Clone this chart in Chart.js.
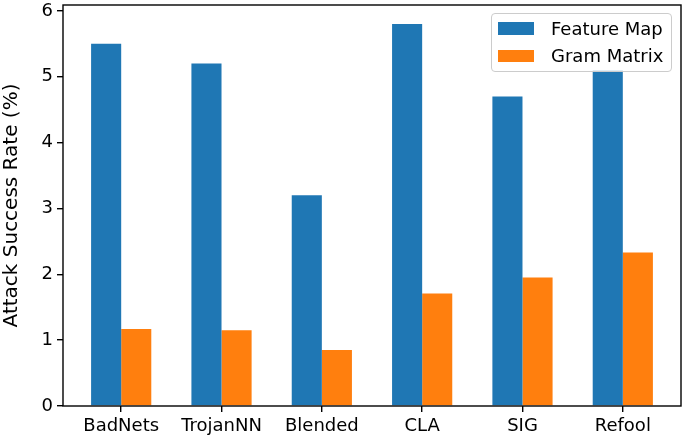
<!DOCTYPE html>
<html><head><meta charset="utf-8">
<script src="https://cdn.jsdelivr.net/npm/chart.js@4"></script>
<style>
html,body{margin:0;padding:0;background:#fff;}
#wrap{position:relative;width:685px;height:439px;}
#legend{position:absolute;left:491px;top:13px;width:181px;height:59px;box-sizing:border-box;border:1px solid #cccccc;border-radius:4px;background:rgba(255,255,255,0.8);font-family:"DejaVu Sans";font-size:18px;color:#000;}
.row{position:absolute;left:0;height:18px;line-height:18px;}
.sw{position:absolute;left:6px;top:2.7px;width:36px;height:12.6px;}
.lbl{position:absolute;left:59px;top:0;white-space:nowrap;}
</style></head>
<body><div id="wrap"><canvas id="c"></canvas><div id="legend"></div></div>
<script>
const categories = ['BadNets', 'TrojanNN', 'Blended', 'CLA', 'SIG', 'Refool'];
const featureMap = [5.5, 5.2, 3.2, 5.8, 4.7, 5.1];
const gramMatrix = [1.17, 1.15, 0.85, 1.71, 1.95, 2.33];
const seriesNames = ['Feature Map', 'Gram Matrix'];
const seriesColors = ['#1f77b4', '#ff7f0e'];
const yTicks = [0, 1, 2, 3, 4, 5, 6];

Chart.defaults.font.family = 'DejaVu Sans';
Chart.defaults.color = '#000';

const toPoints = arr => arr.map((v, i) => ({x: i, y: v}));

const framePlugin = {
  id: 'frame',
  afterDraw(chart) {
    const {ctx, chartArea: a} = chart;
    ctx.save();
    ctx.strokeStyle = '#000';
    ctx.lineWidth = 1.4;
    ctx.strokeRect(a.left, a.top, a.right - a.left, a.bottom - a.top);
    ctx.restore();
  }
};

const htmlLegend = {
  id: 'htmlLegend',
  afterUpdate(chart) {
    const box = document.getElementById('legend');
    box.innerHTML = '';
    chart.data.datasets.forEach((ds, i) => {
      const row = document.createElement('div');
      row.className = 'row';
      row.style.top = (5.5 + i * 27.5) + 'px';
      row.style.width = '100%';
      const sw = document.createElement('div');
      sw.className = 'sw';
      sw.style.background = ds.backgroundColor;
      const lbl = document.createElement('div');
      lbl.className = 'lbl';
      lbl.textContent = ds.label;
      row.appendChild(sw);
      row.appendChild(lbl);
      box.appendChild(row);
    });
  }
};

const gridOpts = {display: true, drawOnChartArea: false, drawTicks: true, tickLength: 6, color: '#000', lineWidth: 1.4, offset: false};

new Chart(document.getElementById('c'), {
  type: 'bar',
  data: {
    datasets: [
      {label: seriesNames[0], data: toPoints(featureMap), backgroundColor: seriesColors[0], borderWidth: 0},
      {label: seriesNames[1], data: toPoints(gramMatrix), backgroundColor: seriesColors[1], borderWidth: 0}
    ]
  },
  options: {
    responsive: true,
    maintainAspectRatio: false,
    animation: false,
    datasets: {bar: {categoryPercentage: 0.6, barPercentage: 1.0}},
    layout: {padding: {left: 0, right: 4, top: 5, bottom: 0}},
    plugins: {legend: {display: false}, tooltip: {enabled: false}},
    scales: {
      x: {
        type: 'linear', min: -0.58, max: 5.58, offset: false,
        afterBuildTicks: s => { s.ticks = categories.map((_, i) => ({value: i})); },
        afterFit: s => { s.height = 33; s.paddingLeft = 0; s.paddingRight = 0; },
        grid: gridOpts,
        border: {display: false},
        ticks: {autoSkip: false, maxRotation: 0, minRotation: 0, padding: 4, font: {size: 18}, color: '#000',
                callback: v => categories[v]}
      },
      y: {
        min: 0, max: 6.09,
        afterBuildTicks: s => { s.ticks = yTicks.map(v => ({value: v})); },
        afterFit: s => { s.width = 63; s.paddingTop = 0; s.paddingBottom = 0; },
        grid: gridOpts,
        border: {display: false},
        ticks: {padding: 4, font: {size: 18}, color: '#000'},
        title: {display: true, text: 'Attack Success Rate (%)', font: {size: 20}, color: '#000', padding: {top: 0, bottom: 0}}
      }
    }
  },
  plugins: [framePlugin, htmlLegend]
});
</script>
</body></html>
